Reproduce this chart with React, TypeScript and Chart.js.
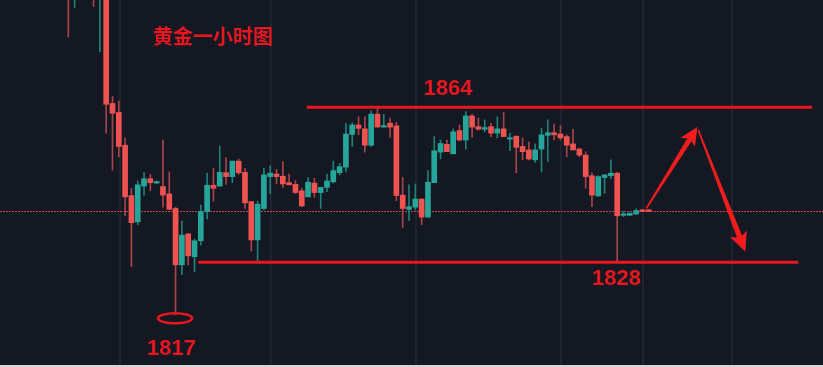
import React, { useEffect, useRef } from "react";
import { Chart, registerables } from "chart.js";

Chart.register(...registerables);

// ---- Data (gold, 1-hour candles) ----
const opens = [
  1895, 1890, 1894, 1892, 1893, 1890, 1892, 1864.9, 1862.8, 1855.2,
  1843.5, 1837.4, 1845.7, 1847.4, 1846.4, 1845.6, 1843.9, 1840.5, 1827.4, 1834.6,
  1829.3, 1833.0, 1839.8, 1845.9, 1845.7, 1848.8, 1847.9, 1851.5, 1848.9, 1842.1,
  1833.2, 1840.5, 1847.9, 1848.5, 1848.0, 1846.5, 1846.1, 1844.6, 1843.2, 1846.4,
  1844.2, 1845.4, 1846.7, 1848.8, 1850.1, 1857.7, 1859.9, 1859.0, 1855.2, 1862.4,
  1859.4, 1860.3, 1859.7, 1843.6, 1840.3, 1840.8, 1842.7, 1838.5, 1846.5, 1853.6,
  1855.4, 1853.2, 1858.6, 1856.4, 1862.0, 1859.5, 1858.9, 1859.5, 1858.0, 1859.0,
  1856.6, 1857.3, 1854.9, 1854.1, 1851.8, 1854.3, 1857.5, 1858.1, 1857.8, 1857.2,
  1855.5, 1854.3, 1852.9, 1848.1, 1843.4, 1847.7, 1848.1, 1848.7, 1838.9, 1838.9,
  1839.2, 1840.2, 1840.2,
];
const highs = [
  1897, 1895, 1896, 1895, 1894, 1894, 1893, 1866.5, 1865.5, 1856.9,
  1845.2, 1846.9, 1848.9, 1848.4, 1846.9, 1856.4, 1849.0, 1840.8, 1837.6, 1834.6,
  1833.4, 1841.3, 1848.7, 1849.8, 1855.0, 1852.3, 1851.5, 1852.0, 1849.8, 1842.1,
  1842.2, 1849.8, 1850.4, 1849.6, 1851.4, 1848.5, 1847.0, 1845.2, 1847.7, 1847.5,
  1845.4, 1848.5, 1851.5, 1851.0, 1860.3, 1860.4, 1861.8, 1861.8, 1863.2, 1863.8,
  1862.4, 1861.5, 1860.5, 1847.7, 1846.0, 1846.2, 1842.7, 1849.3, 1857.2, 1856.4,
  1856.4, 1859.0, 1859.9, 1863.0, 1862.4, 1861.5, 1861.1, 1860.3, 1861.8, 1862.8,
  1858.0, 1857.3, 1856.9, 1856.0, 1855.5, 1859.1, 1861.1, 1860.1, 1859.7, 1857.6,
  1858.9, 1854.5, 1853.7, 1848.8, 1848.1, 1848.3, 1851.8, 1848.9, 1839.8, 1839.5,
  1840.4, 1840.2, 1840.2,
];
const lows = [
  1880.3, 1887.2, 1890, 1890, 1887.4, 1876.9, 1858.0, 1849.4, 1852.5, 1838.8,
  1827.0, 1836.7, 1843.6, 1844.6, 1846.3, 1840.8, 1840.2, 1815.8, 1825.1, 1827.4,
  1825.8, 1832.0, 1838.1, 1842.2, 1845.7, 1846.1, 1846.5, 1848.4, 1840.5, 1830.6,
  1828.3, 1840.2, 1843.9, 1846.2, 1845.4, 1846.0, 1844.0, 1840.9, 1843.2, 1843.1,
  1840.5, 1844.4, 1846.4, 1848.3, 1849.0, 1854.9, 1857.6, 1853.6, 1854.9, 1859.4,
  1859.4, 1857.0, 1842.3, 1836.1, 1837.7, 1840.2, 1836.7, 1838.5, 1846.5, 1852.0,
  1853.7, 1853.2, 1856.2, 1854.3, 1857.0, 1858.7, 1858.3, 1857.2, 1856.9, 1857.2,
  1853.9, 1848.8, 1851.8, 1851.8, 1851.2, 1849.0, 1851.4, 1856.4, 1856.4, 1852.5,
  1854.1, 1852.5, 1845.2, 1840.9, 1843.4, 1844.0, 1847.4, 1828.1, 1838.6, 1838.9,
  1839.2, 1839.8, 1839.8,
];
const closes = [
  1890, 1893, 1892, 1893.5, 1890, 1892, 1864.7, 1862.6, 1854.9, 1843.2,
  1837.2, 1846.0, 1847.4, 1846.5, 1846.7, 1843.6, 1840.3, 1827.4, 1834.3, 1829.5,
  1833.0, 1839.8, 1845.9, 1845.2, 1848.9, 1847.9, 1851.5, 1848.8, 1841.8, 1833.2,
  1841.5, 1848.3, 1848.7, 1847.9, 1846.2, 1846.0, 1844.2, 1841.1, 1846.6, 1844.2,
  1845.4, 1846.9, 1849.3, 1850.2, 1857.8, 1859.9, 1859.1, 1855.2, 1862.4, 1859.4,
  1859.7, 1859.4, 1843.5, 1840.5, 1840.9, 1842.7, 1838.5, 1846.6, 1853.9, 1855.6,
  1853.7, 1858.3, 1856.4, 1862.0, 1859.4, 1858.9, 1859.3, 1858.0, 1859.0, 1857.2,
  1856.9, 1854.7, 1853.7, 1852.0, 1854.1, 1857.6, 1858.1, 1857.6, 1856.9, 1855.2,
  1854.1, 1852.9, 1847.9, 1843.6, 1847.9, 1848.3, 1848.7, 1838.8, 1839.2, 1839.4,
  1840.0, 1839.8, 1839.8,
];

// vertical session grid lines (candle index positions)
const gridIndices = [8.2, 32.1, 55.1, 78.1, 91.1, 105.2];

// annotations
const titleText = "黄金一小时图";
const resistanceLevel = 1864;
const resistanceSpan = [37.8, 117.9];
const supportLevel = 1828;
const supportSpan = [20.6, 115.7];
const lowLabel = "1817";
const lowCandleIndex = 17;
const resistanceLabelIndex = 60.2;
const supportLabelIndex = 86.9;
const arrowPath = [
  [91.6, 1840.5],
  [99.7, 1859.4],
  [107.3, 1830.5],
];

// visible window
const X_MIN = -10.83;
const X_MAX = 119.62;
const Y_MIN = 1804.15;
const Y_MAX = 1888.92;

const UP = "#26a69a";
const DOWN = "#ef5350";
const UP_WICK = "#1f8076";
const DOWN_WICK = "#a8434a";
const MARK = "#e8171f";
const ARROW = "#f21c1c";
const BG = "#141823";
const GRID = "#252935";

function taperArrow(
  ctx: CanvasRenderingContext2D,
  x0: number, y0: number, x1: number, y1: number,
  w0: number, w1: number, headLen: number, headW: number
) {
  const dx = x1 - x0, dy = y1 - y0;
  const L = Math.hypot(dx, dy);
  const ux = dx / L, uy = dy / L;
  const nx = -uy, ny = ux;
  const bx = x1 - ux * headLen, by = y1 - uy * headLen;
  const bbx = bx - ux * 3, bby = by - uy * 3;
  ctx.beginPath();
  ctx.moveTo(x0 + nx * w0 / 2, y0 + ny * w0 / 2);
  ctx.lineTo(bx + nx * w1 / 2, by + ny * w1 / 2);
  ctx.lineTo(bbx + nx * headW / 2, bby + ny * headW / 2);
  ctx.lineTo(x1, y1);
  ctx.lineTo(bbx - nx * headW / 2, bby - ny * headW / 2);
  ctx.lineTo(bx - nx * w1 / 2, by - ny * w1 / 2);
  ctx.lineTo(x0 - nx * w0 / 2, y0 - ny * w0 / 2);
  ctx.closePath();
  ctx.fill();
}

const annotPlugin = {
  id: "annot",
  beforeDraw(chart: any) {
    const { ctx, width, height } = chart;
    ctx.save();
    ctx.fillStyle = BG;
    ctx.fillRect(0, 0, width, height);
    ctx.restore();
  },
  beforeDatasetsDraw(chart: any) {
    const { ctx, chartArea } = chart;
    const xs = chart.scales.x, ys = chart.scales.y;
    ctx.save();
    ctx.strokeStyle = GRID;
    ctx.lineWidth = 1.5;
    gridIndices.forEach((g) => {
      const x = xs.getPixelForValue(g);
      ctx.beginPath();
      ctx.moveTo(x, chartArea.top);
      ctx.lineTo(x, chartArea.bottom);
      ctx.stroke();
    });
    // last price dotted line
    const py = Math.round(ys.getPixelForValue(closes[closes.length - 1])) + 0.5;
    ctx.strokeStyle = "#b8454a";
    ctx.lineWidth = 1;
    ctx.setLineDash([2, 1]);
    ctx.beginPath();
    ctx.moveTo(chartArea.left, py);
    ctx.lineTo(chartArea.right, py);
    ctx.stroke();
    ctx.restore();
  },
  afterDatasetsDraw(chart: any) {
    const { ctx } = chart;
    const xs = chart.scales.x, ys = chart.scales.y;
    ctx.save();
    // horizontal levels
    ctx.strokeStyle = MARK;
    ctx.lineWidth = 3;
    const ry = ys.getPixelForValue(resistanceLevel);
    ctx.beginPath();
    ctx.moveTo(xs.getPixelForValue(resistanceSpan[0]), ry);
    ctx.lineTo(xs.getPixelForValue(resistanceSpan[1]), ry);
    ctx.stroke();
    const sy = ys.getPixelForValue(supportLevel);
    ctx.beginPath();
    ctx.moveTo(xs.getPixelForValue(supportSpan[0]), sy);
    ctx.lineTo(xs.getPixelForValue(supportSpan[1]), sy);
    ctx.stroke();

    // labels
    ctx.fillStyle = MARK;
    ctx.textAlign = "center";
    ctx.textBaseline = "middle";
    ctx.font = 'bold 22px "Liberation Sans", Arial, sans-serif';
    ctx.fillText(String(resistanceLevel), xs.getPixelForValue(resistanceLabelIndex), ry - 18);
    ctx.fillText(String(supportLevel), xs.getPixelForValue(supportLabelIndex), sy + 17);

    // swing low ellipse and label
    const lx = xs.getPixelForValue(lowCandleIndex);
    const ly = ys.getPixelForValue(lows[lowCandleIndex]);
    ctx.lineWidth = 2.5;
    ctx.beginPath();
    ctx.ellipse(lx - 0.5, ly + 3.5, 17, 5, 0, 0, Math.PI * 2);
    ctx.stroke();
    ctx.fillText(lowLabel, lx - 4, ly + 34);

    // title
    ctx.textAlign = "left";
    ctx.font = 'bold 20px "Noto Sans CJK SC", sans-serif';
    ctx.fillText(titleText, 153, 36);

    // arrows
    ctx.fillStyle = ARROW;
    const pts = arrowPath.map(([i, p]) => [xs.getPixelForValue(i), ys.getPixelForValue(p)]);
    taperArrow(ctx, pts[0][0], pts[0][1], pts[1][0], pts[1][1], 1.5, 5, 15, 17);
    taperArrow(ctx, pts[1][0] + 1, pts[1][1] + 3, pts[2][0], pts[2][1], 1.5, 5.5, 16, 18);
    ctx.restore();
  },
};

export default function App() {
  const ref = useRef<HTMLCanvasElement>(null);
  useEffect(() => {
    const canvas = ref.current;
    if (!canvas) return;
    const idx = opens.map((_, i) => i);
    const bodyColors = idx.map((i) => (closes[i] >= opens[i] ? UP : DOWN));
    const wickColors = idx.map((i) => (closes[i] >= opens[i] ? UP_WICK : DOWN_WICK));
    const chart = new Chart(canvas, {
      type: "bar",
      data: {
        datasets: [
          {
            label: "wick",
            data: idx.map((i) => ({ x: i, y: [lows[i], highs[i]] })) as any,
            backgroundColor: wickColors,
            borderWidth: 0,
            barThickness: 1,
            grouped: false,
            order: 2,
          },
          {
            label: "body",
            data: idx.map((i) => ({ x: i, y: [opens[i], closes[i]] })) as any,
            backgroundColor: bodyColors,
            borderWidth: 0,
            barThickness: 5,
            minBarLength: 1.5,
            grouped: false,
            order: 1,
          },
        ],
      },
      options: {
        animation: false,
        responsive: false,
        devicePixelRatio: 1,
        events: [],
        layout: { padding: 0 },
        plugins: { legend: { display: false }, tooltip: { enabled: false } },
        scales: {
          x: { type: "linear", min: X_MIN, max: X_MAX, display: false, offset: false },
          y: { type: "linear", min: Y_MIN, max: Y_MAX, display: false },
        },
      },
      plugins: [annotPlugin],
    });
    return () => chart.destroy();
  }, []);
  return (
    <div style={{ position: "fixed", left: 0, top: 0, width: 823, height: 367, background: "#d6d6d6" }}>
      <canvas ref={ref} width={823} height={365} style={{ display: "block", width: 823, height: 365 }} />
    </div>
  );
}
